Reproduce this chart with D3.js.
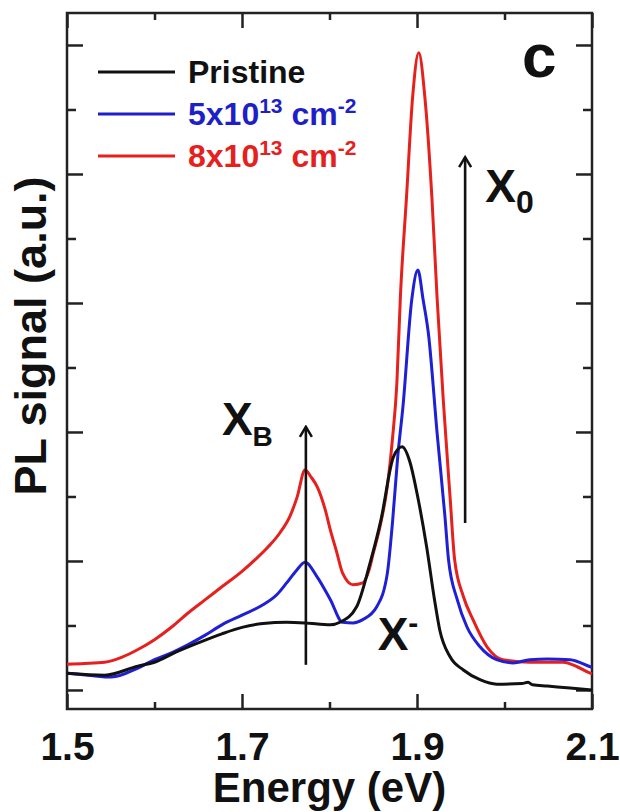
<!DOCTYPE html>
<meta charset="utf-8">
<script src="https://d3js.org/d3.v7.min.js"></script>
<style>
  body { margin: 0; background: #fff; }
  text { font-family: Arial, "Liberation Sans", sans-serif; font-weight: bold; }
</style>
<body>
<div id="chart"></div>
<script>

// PL spectra (energy in eV, signal in a.u. where the y ticks are 0..10)
const pristineE  = [1.500, 1.543, 1.581, 1.600, 1.625, 1.650, 1.677, 1.700, 1.724, 1.751, 1.772, 1.801, 1.812, 1.831, 1.846, 1.859, 1.873, 1.883, 1.892, 1.900, 1.911, 1.920, 1.926, 1.938, 1.953, 1.972, 1.991, 2.020, 2.027, 2.032, 2.049, 2.075, 2.100];
const pristinePL = [0.26, 0.23, 0.37, 0.43, 0.59, 0.73, 0.87, 0.97, 1.03, 1.05, 1.04, 1.01, 1.05, 1.29, 1.95, 2.65, 3.61, 3.77, 3.53, 3.05, 2.22, 1.40, 0.93, 0.51, 0.31, 0.16, 0.09, 0.10, 0.12, 0.08, 0.06, 0.03, 0.00];

const dose5E  = [1.500, 1.524, 1.551, 1.581, 1.600, 1.620, 1.638, 1.658, 1.677, 1.700, 1.724, 1.740, 1.751, 1.762, 1.772, 1.786, 1.801, 1.815, 1.827, 1.838, 1.854, 1.866, 1.872, 1.878, 1.884, 1.894, 1.901, 1.907, 1.913, 1.923, 1.932, 1.936, 1.946, 1.957, 1.972, 1.991, 2.010, 2.029, 2.049, 2.075, 2.098, 2.100];
const dose5PL = [0.26, 0.23, 0.20, 0.34, 0.47, 0.58, 0.70, 0.85, 1.01, 1.16, 1.32, 1.48, 1.66, 1.85, 1.98, 1.75, 1.40, 1.05, 1.04, 1.09, 1.29, 1.80, 2.60, 3.62, 4.40, 6.05, 6.51, 6.05, 5.53, 3.98, 2.68, 2.02, 1.40, 0.98, 0.67, 0.47, 0.42, 0.47, 0.48, 0.47, 0.36, 0.35];

const dose8E  = [1.500, 1.520, 1.543, 1.563, 1.580, 1.600, 1.620, 1.638, 1.658, 1.677, 1.700, 1.715, 1.730, 1.743, 1.755, 1.763, 1.772, 1.779, 1.786, 1.795, 1.801, 1.808, 1.815, 1.827, 1.838, 1.845, 1.850, 1.858, 1.866, 1.872, 1.877, 1.881, 1.888, 1.895, 1.902, 1.909, 1.917, 1.923, 1.930, 1.938, 1.943, 1.953, 1.964, 1.980, 1.998, 2.029, 2.067, 2.083, 2.098, 2.100];
const dose8PL = [0.40, 0.41, 0.43, 0.51, 0.62, 0.78, 0.98, 1.19, 1.40, 1.60, 1.84, 2.02, 2.22, 2.43, 2.70, 2.99, 3.41, 3.30, 3.15, 2.80, 2.48, 2.15, 1.81, 1.63, 1.66, 1.85, 2.12, 2.55, 3.15, 3.90, 4.76, 6.09, 7.64, 9.19, 9.88, 9.19, 7.64, 6.07, 4.50, 2.95, 2.02, 1.45, 1.09, 0.67, 0.47, 0.43, 0.43, 0.36, 0.26, 0.25];

const xMajor = [1.5, 1.7, 1.9, 2.1];
const xMinor = [1.6, 1.8, 2.0];
const yMajor = [0, 2, 4, 6, 8, 10];
const yMinor = [1, 3, 5, 7, 9];

// set the dimensions and margins of the graph
const margin = {top: 13, right: 28, bottom: 103, left: 67},
  width = 620 - margin.left - margin.right,
  height = 812 - margin.top - margin.bottom;

const svg = d3.select("#chart")
  .append("svg")
  .attr("width", width + margin.left + margin.right)
  .attr("height", height + margin.top + margin.bottom)
  .append("g")
  .attr("transform", `translate(${margin.left},${margin.top})`);

const x = d3.scaleLinear().domain([1.5, 2.1]).range([0, width]);
const y = d3.scaleLinear().domain([-0.295, 10.496]).range([height, 0]);

// inward ticks, all four sides
function noDomain(g) { g.select(".domain").remove(); }

svg.append("g")
  .attr("transform", `translate(0,${height})`)
  .call(d3.axisBottom(x).tickValues(xMajor).tickSize(-15).tickPadding(23).tickFormat(d3.format(".1f")))
  .call(noDomain)
  .call(g => g.selectAll("text").attr("font-size", 39).attr("fill", "#111"));
svg.append("g")
  .attr("transform", `translate(0,${height})`)
  .call(d3.axisBottom(x).tickValues(xMinor).tickSize(-7).tickFormat(""))
  .call(noDomain);
svg.append("g")
  .call(d3.axisTop(x).tickValues(xMajor).tickSize(-15).tickFormat(""))
  .call(noDomain);
svg.append("g")
  .call(d3.axisTop(x).tickValues(xMinor).tickSize(-7).tickFormat(""))
  .call(noDomain);

svg.append("g")
  .call(d3.axisLeft(y).tickValues(yMajor).tickSize(-16).tickFormat(""))
  .call(noDomain);
svg.append("g")
  .call(d3.axisLeft(y).tickValues(yMinor).tickSize(-9).tickFormat(""))
  .call(noDomain);
svg.append("g")
  .attr("transform", `translate(${width},0)`)
  .call(d3.axisRight(y).tickValues(yMajor).tickSize(-16).tickFormat(""))
  .call(noDomain);
svg.append("g")
  .attr("transform", `translate(${width},0)`)
  .call(d3.axisRight(y).tickValues(yMinor).tickSize(-9).tickFormat(""))
  .call(noDomain);

svg.selectAll(".tick line").attr("stroke", "#222").attr("stroke-width", 2.5);

// frame
svg.append("rect")
  .attr("width", width)
  .attr("height", height)
  .attr("fill", "none")
  .attr("stroke", "#222")
  .attr("stroke-width", 2.5);

// spectra, drawn back to front
const series = [
  {color: "#e5201d", e: dose8E, v: dose8PL},
  {color: "#1f1fd6", e: dose5E, v: dose5PL},
  {color: "#111", e: pristineE, v: pristinePL}
];

const line = d3.line()
  .x(d => x(d[0]))
  .y(d => y(d[1]))
  .curve(d3.curveMonotoneX);

series.forEach(s => {
  svg.append("path")
    .datum(d3.zip(s.e, s.v))
    .attr("fill", "none")
    .attr("stroke", s.color)
    .attr("stroke-width", 3)
    .attr("stroke-linejoin", "round")
    .attr("d", line);
});

// legend
const legend = [
  {label: "Pristine", sup: null, color: "#111"},
  {label: "5x10", sup: "13", color: "#1f1fc8"},
  {label: "8x10", sup: "13", color: "#e5201d"}
];
legend.forEach((l, i) => {
  const ly = 59 + i * 42;
  svg.append("line")
    .attr("x1", 31).attr("x2", 108)
    .attr("y1", ly).attr("y2", ly)
    .attr("stroke", l.color)
    .attr("stroke-width", 2.8);
  const t = svg.append("text")
    .attr("x", 121).attr("y", ly + 11)
    .attr("font-size", 32)
    .attr("fill", l.color)
    .text(l.label);
  if (l.sup) {
    t.append("tspan").attr("font-size", 21).attr("dy", -12).text(l.sup);
    t.append("tspan").attr("font-size", 32).attr("dy", 12).text(" cm");
    t.append("tspan").attr("font-size", 21).attr("dy", -12).text("-2");
  }
});

// annotations: arrows and peak labels
svg.append("defs").append("marker")
  .attr("id", "head")
  .attr("viewBox", "-12 -8 14 16")
  .attr("refX", 0).attr("refY", 0)
  .attr("markerWidth", 14).attr("markerHeight", 16)
  .attr("markerUnits", "userSpaceOnUse")
  .attr("orient", "auto")
  .append("path")
  .attr("d", "M-10,-6 L0,0 L-10,6")
  .attr("fill", "none")
  .attr("stroke", "#111")
  .attr("stroke-width", 2.5);

const arrows = [
  {e: 1.955, from: 2.59, to: 8.26},
  {e: 1.773, from: 0.39, to: 4.08}
];
arrows.forEach(a => {
  svg.append("line")
    .attr("x1", x(a.e)).attr("x2", x(a.e))
    .attr("y1", y(a.from)).attr("y2", y(a.to))
    .attr("stroke", "#111")
    .attr("stroke-width", 2.6)
    .attr("marker-end", "url(#head)");
});

const peakLabels = [
  {e: 1.978, v: 7.57, main: "X", sub: "0", subSize: 32, subDy: 11},
  {e: 1.677, v: 3.95, main: "X", sub: "B", subSize: 28, subDy: 11},
  {e: 1.855, v: 0.62, main: "X", sub: "-", subSize: 30, subDy: -17}
];
peakLabels.forEach(p => {
  const t = svg.append("text")
    .attr("x", x(p.e)).attr("y", y(p.v))
    .attr("font-size", 46)
    .attr("fill", "#111")
    .text(p.main);
  t.append("tspan")
    .attr("font-size", p.subSize)
    .attr("dy", p.subDy)
    .text(p.sub);
});

svg.append("text")
  .attr("x", x(2.02)).attr("y", y(9.5))
  .attr("font-size", 62)
  .attr("fill", "#111")
  .text("c");

// axis titles
svg.append("text")
  .attr("x", width / 2)
  .attr("y", height + 93)
  .attr("text-anchor", "middle")
  .attr("font-size", 42)
  .attr("fill", "#111")
  .text("Energy (eV)");

svg.append("text")
  .attr("transform", `translate(-21,${336 - margin.top}) rotate(-90)`)
  .attr("text-anchor", "middle")
  .attr("font-size", 45)
  .attr("fill", "#111")
  .text("PL signal (a.u.)");

</script>
</body>
</html>
